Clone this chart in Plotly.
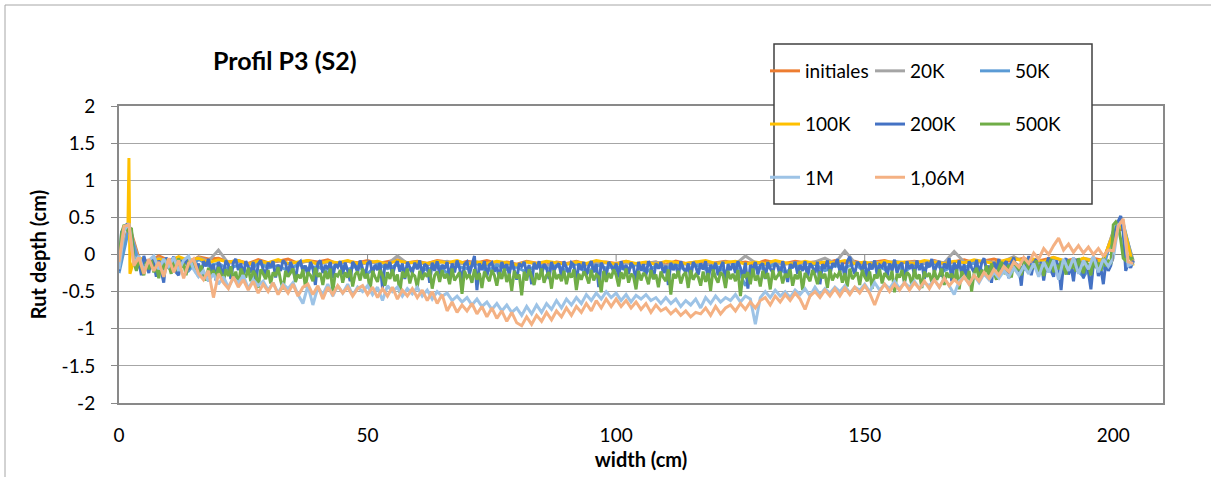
import plotly.graph_objects as go

# ---------------- data ----------------
X_HALF = [i / 2 for i in range(0, 409)]        # 0, 0.5, ..., 204
X_1CM = list(range(0, 205))
X_2CM = list(range(0, 205, 2))
X_100K = [0, 1, 1.8, 2, 2.2, 3] + list(range(4, 205, 2))

INITIALES = [
    -0.15, 0.40, -0.05, -0.10, -0.02, -0.08, -0.04, -0.12, -0.03, -0.06,
    -0.05, -0.10, -0.08, -0.12, -0.07, -0.11, -0.09, -0.06, -0.12, -0.08,
    -0.10, -0.07, -0.13, -0.09, -0.11, -0.08, -0.12, -0.10, -0.07, -0.11,
    -0.09, -0.12, -0.08, -0.10, -0.13, -0.09, -0.11, -0.08, -0.12, -0.10,
    -0.13, -0.09, -0.11, -0.14, -0.10, -0.12, -0.09, -0.13, -0.11, -0.10,
    -0.12, -0.09, -0.13, -0.11, -0.10, -0.14, -0.09, -0.12, -0.10, -0.13,
    -0.11, -0.09, -0.12, -0.10, -0.13, -0.08, -0.11, -0.12, -0.09, -0.11,
    -0.10, -0.12, -0.08, -0.11, -0.09, -0.13, -0.10, -0.08, -0.12, -0.10,
    -0.09, -0.11, -0.08, -0.12, -0.10, -0.07, -0.11, -0.09, -0.06, -0.10,
    -0.08, -0.05, -0.10, -0.07, -0.04, -0.09, -0.06, -0.11, -0.05, -0.08,
    0.30, 0.35, -0.10,
]

K20 = [
    -0.18, 0.38, -0.08, -0.12, -0.05, -0.10, -0.06, -0.14, -0.04, -0.09,
    0.06, -0.12, -0.09, -0.14, -0.10, -0.13, -0.08, -0.12, -0.11, -0.09,
    -0.13, -0.10, -0.12, -0.09, -0.14, -0.11, -0.10, -0.13, -0.02, -0.12,
    -0.10, -0.14, -0.11, -0.09, -0.13, -0.12, -0.10, -0.14, -0.11, -0.12,
    -0.14, -0.10, -0.12, -0.15, -0.11, -0.13, -0.10, -0.14, -0.12, -0.11,
    -0.13, -0.11, -0.14, -0.12, -0.10, -0.15, -0.11, -0.13, -0.12, -0.14,
    -0.12, -0.10, -0.13, -0.02, -0.11, -0.14, -0.10, -0.13, -0.11, -0.12,
    -0.10, -0.05, -0.12, 0.05, -0.11, -0.13, -0.10, -0.12, -0.09, -0.11,
    -0.10, -0.12, -0.09, -0.11, 0.04, -0.10, -0.12, -0.08, -0.11, -0.09,
    -0.03, -0.10, -0.07, -0.12, -0.06, -0.09, -0.11, -0.05, -0.08, -0.10,
    0.32, 0.38, -0.08,
]

K50 = [
    -0.25, 0.35, -0.12, -0.20, -0.08, -0.18, -0.10, -0.22, -0.06, -0.15,
    -0.12, -0.20, -0.14, -0.25, -0.11, -0.18, -0.15, -0.22, -0.13, -0.19,
    -0.16, -0.24, -0.12, -0.20, -0.15, -0.26, -0.13, -0.19, -0.14, -0.22,
    -0.15, -0.21, -0.13, -0.25, -0.16, -0.19, -0.12, -0.23, -0.14, -0.20,
    -0.17, -0.24, -0.13, -0.19, -0.15, -0.22, -0.12, -0.26, -0.14, -0.18,
    -0.16, -0.21, -0.13, -0.24, -0.15, -0.19, -0.12, -0.22, -0.14, -0.20,
    -0.15, -0.23, -0.13, -0.42, -0.16, -0.20, -0.12, -0.25, -0.14, -0.19,
    -0.13, -0.22, -0.15, -0.18, -0.12, -0.24, -0.14, -0.20, -0.11, -0.23,
    -0.14, -0.19, -0.12, -0.22, -0.15, -0.18, -0.11, -0.24, -0.13, -0.17,
    -0.10, -0.20, -0.12, -0.25, -0.08, -0.22, -0.15, -0.30, -0.10, -0.18,
    0.30, 0.42, -0.12,
]

K100 = [
    -0.12, 0.36, 0.40, 1.30, -0.26, -0.08,
    -0.04, -0.12, -0.06, -0.10, -0.03, -0.08, -0.05, -0.11, -0.07, -0.10,
    -0.08, -0.13, -0.09, -0.11, -0.07, -0.12, -0.10, -0.08, -0.13, -0.09,
    -0.11, -0.08, -0.12, -0.10, -0.09, -0.13, -0.08, -0.11, -0.10, -0.12,
    -0.09, -0.11, -0.08, -0.13, -0.10, -0.12, -0.09, -0.11, -0.14, -0.10,
    -0.12, -0.09, -0.11, -0.13, -0.10, -0.12, -0.08, -0.11, -0.13, -0.09,
    -0.12, -0.10, -0.13, -0.09, -0.11, -0.12, -0.10, -0.08, -0.12, -0.11,
    -0.09, -0.13, -0.10, -0.12, -0.08, -0.11, -0.13, -0.09, -0.12, -0.10,
    -0.11, -0.08, -0.12, -0.10, -0.13, -0.09, -0.11, -0.10, -0.12, -0.08,
    -0.10, -0.12, -0.09, -0.11, -0.07, -0.10, -0.12, -0.08, -0.05, -0.09,
    -0.06, -0.10, -0.04, -0.08, -0.11, -0.05, -0.09, -0.07, 0.28, 0.40,
    -0.15,
]

K200 = [
    -0.22, 0.30, 0.36, 0.40, 0.38, 0.32, -0.05, -0.20, -0.10, -0.28,
    -0.02, -0.15, -0.25, -0.06, -0.12, -0.30, -0.08, -0.22, -0.38, -0.04,
    -0.18, -0.10, -0.03, -0.24, -0.28, -0.08, -0.14, -0.05, -0.20, -0.11,
    -0.06, -0.25, -0.12, -0.30, -0.09, -0.16, -0.06, -0.22, -0.13, -0.35,
    -0.10, -0.18, -0.27, -0.08, -0.14, -0.33, -0.11, -0.06, -0.21, -0.12,
    -0.29, -0.09, -0.16, -0.24, -0.10, -0.38, -0.13, -0.08, -0.20, -0.27,
    -0.11, -0.17, -0.09, -0.31, -0.14, -0.22, -0.08, -0.12, -0.26, -0.10,
    -0.19, -0.34, -0.12, -0.09, -0.23, -0.15, -0.29, -0.10, -0.18, -0.41,
    -0.12, -0.08, -0.25, -0.14, -0.20, -0.10, -0.32, -0.13, -0.17, -0.09,
    -0.27, -0.11, -0.22, -0.36, -0.10, -0.15, -0.24, -0.08, -0.19, -0.30,
    -0.12, -0.09, -0.26, -0.14, -0.21, -0.11, -0.45, -0.13, -0.18, -0.10,
    -0.28, -0.15, -0.09, -0.23, -0.12, -0.33, -0.10, -0.17, -0.25, -0.11,
    -0.20, -0.08, -0.30, -0.13, -0.16, -0.38, -0.11, -0.22, -0.09, -0.27,
    -0.14, -0.19, -0.10, -0.31, -0.12, -0.24, -0.08, -0.18, -0.35, -0.13,
    -0.10, -0.26, -0.15, -0.02, -0.48, -0.12, -0.21, -0.09, -0.29, -0.14,
    -0.11, -0.23, -0.17, -0.32, -0.10, -0.19, -0.13, -0.27, -0.08, -0.22,
    -0.34, -0.12, -0.16, -0.10, -0.25, -0.14, -0.40, -0.11, -0.20, -0.09,
    -0.28, -0.13, -0.18, -0.33, -0.10, -0.22, -0.15, -0.12, -0.30, -0.09,
    -0.19, -0.26, -0.11, -0.14, -0.37, -0.12, -0.21, -0.10, -0.28, -0.16,
    -0.09, -0.24, -0.13, -0.44, -0.11, -0.18, -0.29, -0.10, -0.15, -0.23,
    -0.12, -0.31, -0.09, -0.20, -0.14, -0.26, -0.11, -0.17, -0.36, -0.10,
    -0.22, -0.13, -0.28, -0.09, -0.16, -0.33, -0.12, -0.19, -0.10, -0.25,
    -0.15, -0.41, -0.11, -0.21, -0.13, -0.29, -0.09, -0.18, -0.24, -0.12,
    -0.32, -0.10, -0.16, -0.27, -0.12, -0.20, -0.09, -0.35, -0.14, -0.22,
    -0.11, -0.28, -0.17, -0.10, -0.39, -0.13, -0.21, -0.12, -0.25, -0.09,
    -0.18, -0.30, -0.11, -0.46, -0.14, -0.20, -0.10, -0.27, -0.15, -0.12,
    -0.33, -0.10, -0.19, -0.24, -0.12, -0.16, -0.29, -0.09, -0.21, -0.37,
    -0.13, -0.18, -0.10, -0.26, -0.14, -0.22, -0.09, -0.31, -0.12, -0.17,
    -0.25, -0.10, -0.40, -0.13, -0.19, -0.08, -0.28, -0.12, -0.15, -0.06,
    -0.23, -0.11, -0.32, -0.09, -0.03, -0.18, -0.26, -0.10, -0.14, -0.21,
    -0.09, -0.35, -0.12, -0.20, -0.08, -0.27, -0.14, -0.17, -0.10, -0.30,
    -0.12, -0.22, -0.07, -0.25, -0.15, -0.11, -0.39, -0.09, -0.19, -0.13,
    -0.28, -0.08, -0.21, -0.12, -0.33, -0.10, -0.17, -0.06, -0.24, -0.14,
    -0.09, -0.30, -0.12, -0.19, -0.05, -0.36, -0.11, -0.22, -0.08, -0.27,
    -0.13, -0.34, -0.09, -0.18, -0.24, -0.07, -0.29, -0.12, -0.05, -0.21,
    -0.15, -0.38, -0.10, -0.20, -0.06, -0.26, -0.13, -0.09, -0.32, -0.11,
    -0.04, -0.23, -0.16, -0.42, -0.08, -0.19, -0.02, -0.28, -0.12, -0.06,
    -0.25, -0.10, -0.35, -0.14, -0.04, -0.22, -0.30, -0.08, -0.17, -0.48,
    -0.12, -0.05, -0.27, -0.15, -0.36, -0.06, -0.20, -0.10, -0.32, -0.09,
    -0.24, -0.47, -0.13, -0.07, -0.29, -0.18, -0.40, -0.11, -0.22, -0.15,
    0.05, 0.35, 0.45, 0.52, 0.30, -0.22, -0.12, -0.18, -0.08,
]

K500 = [
    -0.12, 0.28, 0.40, 0.35, 0.30, 0.36, -0.10, -0.22, -0.06, -0.16,
    -0.28, -0.10, -0.20, -0.08, -0.24, -0.15, -0.32, -0.12, -0.20, -0.07,
    -0.14, -0.26, -0.10, -0.22, -0.05, -0.18, -0.12, -0.28, -0.09, -0.17,
    -0.06, -0.22, -0.30, -0.15, -0.25, -0.35, -0.18, -0.28, -0.21, -0.33,
    -0.17, -0.25, -0.38, -0.20, -0.29, -0.16, -0.34, -0.23, -0.42, -0.19,
    -0.27, -0.31, -0.18, -0.36, -0.22, -0.28, -0.45, -0.20, -0.26, -0.33,
    -0.21, -0.39, -0.24, -0.29, -0.17, -0.35, -0.47, -0.22, -0.30, -0.25,
    -0.19, -0.37, -0.27, -0.32, -0.20, -0.44, -0.24, -0.28, -0.36, -0.18,
    -0.30, -0.25, -0.41, -0.22, -0.33, -0.19, -0.50, -0.26, -0.29, -0.21,
    -0.38, -0.24, -0.31, -0.20, -0.43, -0.27, -0.23, -0.35, -0.19, -0.32,
    -0.26, -0.48, -0.22, -0.30, -0.37, -0.21, -0.28, -0.42, -0.24, -0.33,
    -0.20, -0.36, -0.27, -0.52, -0.23, -0.31, -0.19, -0.39, -0.26, -0.29,
    -0.44, -0.22, -0.34, -0.25, -0.30, -0.20, -0.46, -0.28, -0.23, -0.37,
    -0.21, -0.32, -0.26, -0.40, -0.19, -0.35, -0.29, -0.24, -0.53, -0.22,
    -0.31, -0.27, -0.38, -0.20, -0.34, -0.25, -0.45, -0.23, -0.30, -0.36,
    -0.21, -0.28, -0.42, -0.24, -0.33, -0.19, -0.37, -0.26, -0.49, -0.22,
    -0.32, -0.27, -0.55, -0.23, -0.35, -0.20, -0.30, -0.41, -0.25, -0.34,
    -0.19, -0.38, -0.28, -0.24, -0.46, -0.21, -0.33, -0.27, -0.36, -0.22,
    -0.40, -0.25, -0.31, -0.20, -0.48, -0.26, -0.34, -0.23, -0.29, -0.39,
    -0.21, -0.35, -0.27, -0.30, -0.51, -0.22, -0.37, -0.25, -0.32, -0.20,
    -0.28, -0.43, -0.24, -0.33, -0.19, -0.38, -0.26, -0.30, -0.47, -0.22,
    -0.35, -0.25, -0.29, -0.40, -0.21, -0.33, -0.27, -0.44, -0.23, -0.31,
    -0.36, -0.20, -0.54, -0.26, -0.32, -0.22, -0.39, -0.28, -0.24, -0.45,
    -0.21, -0.34, -0.27, -0.30, -0.42, -0.23, -0.37, -0.25, -0.49, -0.20,
    -0.31, -0.38, -0.24, -0.28, -0.45, -0.22, -0.33, -0.26, -0.36, -0.21,
    -0.56, -0.27, -0.30, -0.24, -0.40, -0.19, -0.35, -0.28, -0.43, -0.22,
    -0.32, -0.25, -0.47, -0.21, -0.34, -0.29, -0.23, -0.39, -0.26, -0.31,
    -0.20, -0.42, -0.27, -0.33, -0.22, -0.48, -0.25, -0.30, -0.36, -0.21,
    -0.28, -0.40, -0.23, -0.32, -0.26, -0.45, -0.20, -0.35, -0.27, -0.30,
    -0.22, -0.38, -0.25, -0.43, -0.19, -0.33, -0.28, -0.24, -0.41, -0.21,
    -0.30, -0.36, -0.23, -0.46, -0.27, -0.32, -0.20, -0.39, -0.25, -0.29,
    -0.34, -0.22, -0.51, -0.26, -0.31, -0.21, -0.37, -0.24, -0.28, -0.42,
    -0.20, -0.33, -0.27, -0.45, -0.23, -0.30, -0.25, -0.38, -0.21, -0.34,
    -0.28, -0.19, -0.41, -0.24, -0.31, -0.26, -0.36, -0.20, -0.47, -0.23,
    -0.29, -0.35, -0.22, -0.50, -0.25, -0.18, -0.32, -0.21, -0.27, -0.15,
    -0.30, -0.12, -0.24, -0.34, -0.18, -0.10, -0.26, -0.21, -0.14, -0.31,
    -0.09, -0.22, -0.16, -0.28, -0.12, -0.06, -0.25, -0.15, -0.19, -0.08,
    -0.23, -0.13, -0.29, -0.10, -0.18, -0.06, -0.24, -0.14, -0.20, -0.09,
    -0.16, -0.27, -0.07, -0.19, -0.12, -0.23, -0.05, -0.17, -0.25, -0.10,
    -0.14, -0.28, -0.06, -0.18, -0.11, -0.22, -0.04, -0.16, -0.09, -0.13,
    0.40, 0.44, 0.38, 0.20, -0.05, -0.08, -0.03, -0.06, -0.04,
]

M1 = [
    -0.20, 0.32, 0.42, -0.12, -0.02, -0.22, -0.08, -0.02, -0.20, -0.06,
    -0.16, -0.04, -0.22, -0.08, -0.02, -0.20, -0.30, -0.22, -0.36, -0.26,
    -0.40, -0.30, -0.44, -0.32, -0.38, -0.28, -0.46, -0.34, -0.42, -0.36,
    -0.48, -0.38, -0.52, -0.40, -0.46, -0.38, -0.54, -0.66, -0.42, -0.68,
    -0.44, -0.54, -0.40, -0.56, -0.42, -0.52, -0.40, -0.55, -0.44, -0.50,
    -0.42, -0.54, -0.44, -0.62, -0.42, -0.50, -0.44, -0.56, -0.46, -0.53,
    -0.44, -0.56, -0.48, -0.60, -0.50, -0.56, -0.52, -0.62, -0.56, -0.64,
    -0.58, -0.68, -0.60, -0.70, -0.64, -0.74, -0.66, -0.76, -0.68, -0.78,
    -0.72, -0.82, -0.70, -0.80, -0.68, -0.78, -0.66, -0.74, -0.62, -0.72,
    -0.60, -0.68, -0.58, -0.66, -0.54, -0.62, -0.52, -0.60, -0.50, -0.58,
    -0.52, -0.62, -0.54, -0.64, -0.55, -0.60, -0.54, -0.62, -0.58, -0.66,
    -0.58, -0.66, -0.60, -0.70, -0.62, -0.68, -0.60, -0.72, -0.58, -0.66,
    -0.56, -0.64, -0.58, -0.62, -0.54, -0.64, -0.56, -0.60, -0.94, -0.58,
    -0.50, -0.58, -0.48, -0.56, -0.50, -0.58, -0.48, -0.54, -0.46, -0.56,
    -0.44, -0.54, -0.46, -0.52, -0.44, -0.50, -0.42, -0.52, -0.44, -0.48,
    -0.40, -0.50, -0.38, -0.48, -0.40, -0.46, -0.36, -0.46, -0.38, -0.44,
    -0.36, -0.46, -0.38, -0.42, -0.34, -0.44, -0.32, -0.42, -0.54, -0.36,
    -0.30, -0.40, -0.28, -0.38, -0.26, -0.34, -0.24, -0.32, -0.22, -0.30,
    -0.18, -0.28, -0.16, -0.26, -0.12, -0.30, -0.10, -0.24, -0.08, -0.34,
    -0.06, -0.22, -0.04, -0.26, -0.08, -0.20, -0.02, -0.24, -0.06, -0.16,
    -0.05, 0.40, 0.45, -0.15, -0.12,
]

M106 = [
    -0.10, 0.38, 0.40, -0.15, -0.04, -0.26, -0.06, -0.22, -0.10, -0.30,
    -0.05, -0.24, -0.08, -0.32, -0.12, -0.06, -0.26, -0.34, -0.22, -0.58,
    -0.26, -0.38, -0.46, -0.30, -0.44, -0.34, -0.48, -0.36, -0.52, -0.40,
    -0.50, -0.38, -0.54, -0.42, -0.52, -0.40, -0.56, -0.44, -0.40, -0.54,
    -0.42, -0.60, -0.44, -0.54, -0.42, -0.52, -0.44, -0.56, -0.46, -0.42,
    -0.54, -0.44, -0.58, -0.46, -0.56, -0.44, -0.60, -0.48, -0.56, -0.46,
    -0.58, -0.48, -0.62, -0.50, -0.66, -0.54, -0.76, -0.64, -0.78, -0.68,
    -0.76, -0.66, -0.80, -0.70, -0.84, -0.72, -0.86, -0.76, -0.90, -0.78,
    -0.92, -0.96, -0.84, -0.94, -0.82, -0.90, -0.78, -0.88, -0.76, -0.84,
    -0.72, -0.82, -0.70, -0.78, -0.66, -0.76, -0.62, -0.72, -0.60, -0.70,
    -0.60, -0.70, -0.62, -0.72, -0.64, -0.74, -0.66, -0.78, -0.68, -0.76,
    -0.72, -0.80, -0.74, -0.82, -0.76, -0.84, -0.78, -0.80, -0.72, -0.82,
    -0.70, -0.80, -0.72, -0.68, -0.76, -0.66, -0.74, -0.64, -0.72, -0.62,
    -0.58, -0.68, -0.56, -0.64, -0.54, -0.62, -0.52, -0.60, -0.74, -0.56,
    -0.50, -0.58, -0.48, -0.56, -0.46, -0.56, -0.45, -0.54, -0.44, -0.52,
    -0.42, -0.52, -0.68, -0.50, -0.40, -0.50, -0.40, -0.48, -0.38, -0.48,
    -0.38, -0.46, -0.36, -0.46, -0.34, -0.44, -0.32, -0.42, -0.34, -0.40,
    -0.30, -0.40, -0.28, -0.36, -0.24, -0.32, -0.20, -0.28, -0.16, -0.23,
    -0.10, -0.17, -0.04, -0.12, 0.02, -0.06, 0.08, 0.00, 0.12, 0.22,
    0.06, 0.14, 0.03, 0.12, 0.02, 0.10, 0.00, 0.08, -0.02, 0.06,
    0.05, 0.38, 0.48, -0.10, -0.12,
]

SERIES_NAMES = ["initiales", "20K", "50K", "100K", "200K", "500K", "1M", "1,06M"]
SERIES_X = [X_2CM, X_2CM, X_2CM, X_100K, X_HALF, X_HALF, X_1CM, X_1CM]
SERIES_Y = [INITIALES, K20, K50, K100, K200, K500, M1, M106]
SERIES_COLORS = ["#ED7D31", "#A5A5A5", "#5B9BD5", "#FFC000",
                 "#4472C4", "#70AD47", "#9DC3E6", "#F4B183"]
SERIES_LEGEND = ["legend", "legend2", "legend3", "legend",
                 "legend2", "legend3", "legend", "legend2"]

X_TICKS = [0, 50, 100, 150, 200]
Y_TICKS = [-2, -1.5, -1, -0.5, 0, 0.5, 1, 1.5, 2]
Y_TICK_TEXT = ["-2", "-1.5", "-1", "-0.5", "0", "0.5", "1", "1.5", "2"]

# ---------------- figure ----------------
FONT = "Lato"
GRID = "#A6A6A6"
AXIS = "#898989"

fig = go.Figure()
for name, xs, ys, col, leg in zip(SERIES_NAMES, SERIES_X, SERIES_Y,
                                  SERIES_COLORS, SERIES_LEGEND):
    fig.add_trace(go.Scatter(
        x=xs, y=ys, mode="lines", name=name,
        line=dict(color=col, width=3),
        legend=leg, legendgroup=name,
    ))

W, H = 1211, 477
L, R, T, B = 119, 48, 106, 74
pw, ph = W - L - R, H - T - B


def px_x(p):
    return (p - L) / pw


def px_y(p):
    return (H - B - p) / ph


legend_common = dict(
    xanchor="left", yanchor="top", orientation="v",
    bgcolor="rgba(0,0,0,0)", borderwidth=0,
    font=dict(family=FONT, size=19, color="#000000"),
    tracegroupgap=25.5, traceorder="grouped",
)

shapes = []
# chart-area border (only top/left visible in the picture)
shapes.append(dict(type="rect", xref="paper", yref="paper",
                   x0=px_x(5), x1=px_x(1260), y0=px_y(5), y1=px_y(520),
                   line=dict(color="#A6A6A6", width=1), layer="below"))
# legend box
shapes.append(dict(type="rect", xref="paper", yref="paper",
                   x0=px_x(774), x1=px_x(1092), y0=px_y(204), y1=px_y(44),
                   fillcolor="white", line=dict(color="#404040", width=1.5),
                   layer="above"))
# x-axis tick marks on the y = 0 crossing line
for xv in X_TICKS[1:]:
    shapes.append(dict(type="line", xref="x", yref="y", ysizemode="pixel",
                       yanchor=0, x0=xv, x1=xv, y0=0, y1=-7,
                       line=dict(color=AXIS, width=1), layer="above"))

fig.update_layout(
    width=W, height=H,
    margin=dict(l=L, r=R, t=T, b=B, autoexpand=False),
    paper_bgcolor="white", plot_bgcolor="white",
    font=dict(family=FONT, color="#000000"),
    title=dict(text="<b>Profil P3 (S2)</b>", xref="container", yref="container",
               x=213 / W, xanchor="left", y=1 - 61 / H, yanchor="middle",
               font=dict(family=FONT, size=25, color="#000000")),
    legend=dict(x=px_x(765), y=px_y(52), **legend_common),
    legend2=dict(x=px_x(870), y=px_y(52), **legend_common),
    legend3=dict(x=px_x(975), y=px_y(52), **legend_common),
    shapes=shapes,
    xaxis=dict(range=[0, 210], tickvals=X_TICKS, ticks="",
               showgrid=False, zeroline=False,
               showline=True, mirror=True, linecolor=AXIS, linewidth=2,
               tickfont=dict(family=FONT, size=19, color="#000000"),
               ticklabelstandoff=14,
               title=dict(text="<b>width (cm)</b>", standoff=8,
                          font=dict(family=FONT, size=20, color="#000000"))),
    yaxis=dict(range=[-2, 2], tickvals=Y_TICKS, ticktext=Y_TICK_TEXT,
               ticks="outside", ticklen=6, tickcolor=AXIS,
               showgrid=True, gridcolor=GRID, gridwidth=1,
               zeroline=True, zerolinecolor=AXIS, zerolinewidth=1,
               showline=True, mirror=True, linecolor=AXIS, linewidth=2,
               tickfont=dict(family=FONT, size=19, color="#000000"),
               ticklabelstandoff=12,
               title=dict(text="<b>Rut depth (cm)</b>", standoff=10,
                          font=dict(family=FONT, size=20, color="#000000"))),
)

fig.write_html("out.html")
